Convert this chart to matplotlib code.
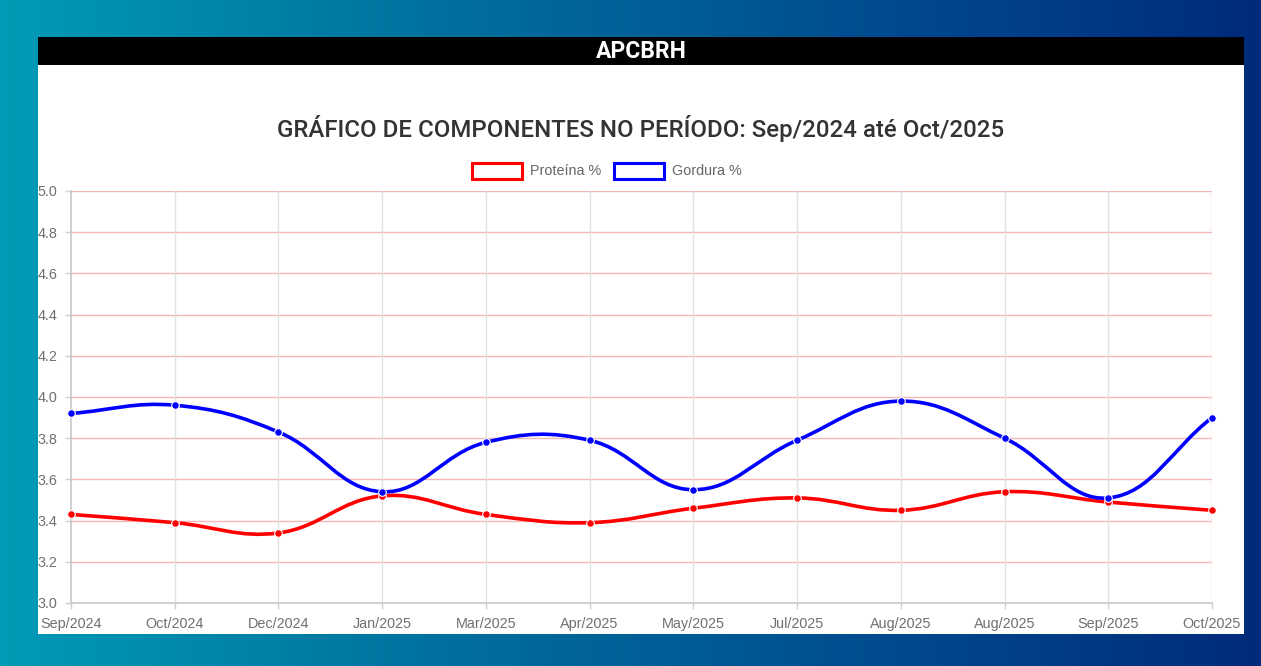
import numpy as np
import matplotlib.pyplot as plt
from matplotlib.path import Path
from matplotlib.patches import PathPatch, Rectangle
from matplotlib.colors import LinearSegmentedColormap

# dados
meses = ['Sep/2024', 'Oct/2024', 'Dec/2024', 'Jan/2025', 'Mar/2025', 'Apr/2025',
         'May/2025', 'Jul/2025', 'Aug/2025', 'Aug/2025', 'Sep/2025', 'Oct/2025']
proteina = [3.43, 3.39, 3.34, 3.52, 3.43, 3.39, 3.46, 3.51, 3.45, 3.54, 3.49, 3.45]
gordura = [3.92, 3.96, 3.83, 3.54, 3.78, 3.79, 3.55, 3.79, 3.98, 3.80, 3.51, 3.90]
series = [('Proteína %', proteina, '#ff0000'), ('Gordura %', gordura, '#0000ff')]
yticks = [3.0, 3.2, 3.4, 3.6, 3.8, 4.0, 4.2, 4.4, 4.6, 4.8, 5.0]

W, H = 1261, 666
fig = plt.figure(figsize=(W / 100, H / 100), dpi=100)

# fundo em degrade
bg = fig.add_axes([0, 0, 1, 1])
cmap = LinearSegmentedColormap.from_list('bg', ['#009bb6', '#00729f', '#004f90', '#002b7a'])
grad = np.linspace(0, 1, 256).reshape(1, -1)
bg.imshow(grad, aspect='auto', cmap=cmap, extent=[0, 1, 0, 1])
bg.set_axis_off()

def fx(px):
    return px / W

def fy(py):
    return 1 - py / H

# painel branco e barra preta
fig.patches.append(Rectangle((fx(38), fy(634)), fx(1244) - fx(38), fy(37) - fy(634),
                             transform=fig.transFigure, facecolor='white', edgecolor='none', zorder=1))
fig.patches.append(Rectangle((fx(38), fy(65)), fx(1244) - fx(38), fy(37) - fy(65),
                             transform=fig.transFigure, facecolor='black', edgecolor='none', zorder=2))
fig.text(fx(641), fy(51), 'APCBRH', color='white', fontsize=16.5, fontweight='bold',
         family='Roboto', ha='center', va='center', zorder=3)
fig.text(fx(641), fy(129), 'GRÁFICO DE COMPONENTES NO PERÍODO: Sep/2024 até Oct/2025',
         color='#333333', fontsize=17.3, fontweight='medium', family='Roboto',
         ha='center', va='center', zorder=3)

# legenda
lx = [472, 614]
for (nome, _, cor), x0 in zip(series, lx):
    fig.patches.append(Rectangle((fx(x0), fy(179)), fx(50), 16 / H, transform=fig.transFigure,
                                 facecolor='white', edgecolor=cor, linewidth=2.2, zorder=3))
    fig.text(fx(x0 + 58), fy(171), nome, color='#666666', fontsize=10.4,
             family='Liberation Sans', ha='left', va='center', zorder=3)

ax = fig.add_axes([fx(71), fy(603), fx(1212) - fx(71), fy(191) - fy(603)])
ax.set_zorder(5)
ax.patch.set_alpha(0)
n = len(meses)
xs = np.arange(n)
ax.set_xlim(0, n - 1)
ax.set_ylim(3.0, 5.0)

# grade
for y in yticks[1:]:
    ax.axhline(y, color='#f4b6b6', lw=1, zorder=1)
for x in xs[1:-1]:
    ax.axvline(x, color='#e2e2e2', lw=1, zorder=1)
ax.axvline(n - 1, color='#f4b6b6', lw=1, zorder=1)

for s in ['top', 'right']:
    ax.spines[s].set_visible(False)
for s in ['left', 'bottom']:
    ax.spines[s].set_color('#c8c8c8')
    ax.spines[s].set_linewidth(1.2)

ax.set_yticks(yticks)
ax.set_yticklabels(['%.1f' % v for v in yticks])
ax.set_xticks(xs)
ax.set_xticklabels(meses)
ax.tick_params(axis='both', labelsize=10.4, length=4, width=1, color='#d0d0d0')
for lab in ax.get_xticklabels() + ax.get_yticklabels():
    lab.set_family('Liberation Sans')
    lab.set_color('#707070')
ax.tick_params(axis='x', pad=6)
ax.tick_params(axis='y', pad=6)

# escala em pixels para a curva (tensao 0.4 como no Chart.js)
sx = (1212 - 71) / (n - 1)
sy = 412 / 2.0

def curva(ys, t=0.4):
    px = xs * sx
    py = np.array(ys) * sy
    c1, c2 = [], []
    for i in range(n):
        p0 = (px[max(i - 1, 0)], py[max(i - 1, 0)])
        p1 = (px[i], py[i])
        p2 = (px[min(i + 1, n - 1)], py[min(i + 1, n - 1)])
        d01 = np.hypot(p1[0] - p0[0], p1[1] - p0[1])
        d12 = np.hypot(p2[0] - p1[0], p2[1] - p1[1])
        tot = d01 + d12
        s01 = d01 / tot if tot else 0
        s12 = d12 / tot if tot else 0
        fa, fb = t * s01, t * s12
        c1.append((p1[0] - fa * (p2[0] - p0[0]), p1[1] - fa * (p2[1] - p0[1])))
        c2.append((p1[0] + fb * (p2[0] - p0[0]), p1[1] + fb * (p2[1] - p0[1])))
    verts = [(px[0] / sx, py[0] / sy)]
    codes = [Path.MOVETO]
    for i in range(n - 1):
        verts += [(c2[i][0] / sx, c2[i][1] / sy), (c1[i + 1][0] / sx, c1[i + 1][1] / sy),
                  (px[i + 1] / sx, py[i + 1] / sy)]
        codes += [Path.CURVE4] * 3
    return Path(verts, codes)

for nome, ys, cor in series:
    ax.add_patch(PathPatch(curva(ys), facecolor='none', edgecolor=cor, lw=2.6, zorder=3,
                           capstyle='round', joinstyle='round'))
    ax.plot(xs, ys, 'o', color=cor, ms=5.5, mec='white', mew=0.8, zorder=4, clip_on=False)

fig.savefig('out.png', dpi=100)
